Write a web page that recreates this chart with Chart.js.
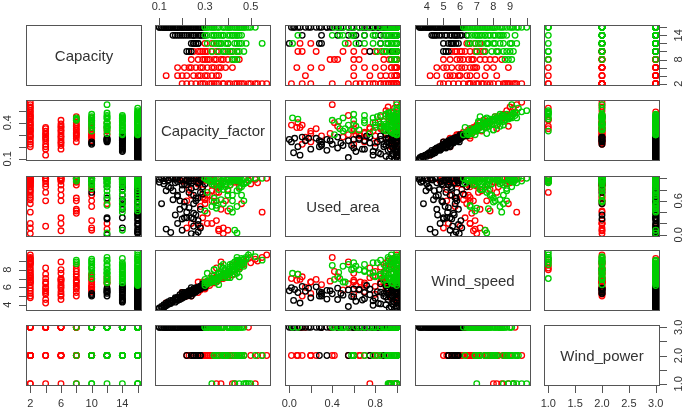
<!DOCTYPE html>
<html lang="en">
<head>
<meta charset="UTF-8">
<title>Wind farm pairs plot</title>
<script src="https://cdn.jsdelivr.net/npm/chart.js"></script>
<style>
  body { margin: 0; background: #fff; }
  #wrap { position: relative; width: 685px; height: 414px; overflow: hidden; background: #fff;
          font-family: "Liberation Sans", Arial, sans-serif; }
  #wrap canvas { position: absolute; }
  .diag { position: absolute; display: flex; align-items: center; justify-content: center;
          font-size: 15px; color: #333; }
</style>
</head>
<body>
<div id="wrap"></div>
<script>
// variable names (diagonal labels)
var varNames = ['Capacity', 'Capacity_factor', 'Used_area', 'Wind_speed', 'Wind_power'];
// cluster colours: black, red, green
var groupColors = ['#000000', '#FF0000', '#00CD00'];
// drawing order of the clusters (higher = further back): red behind black, green on top
var groupOrder = [1, 2, 0];

// each variable: [black cluster, red cluster, green cluster]
var capacity = [
  [16,16,16,16,16,16,16,16,16,16, 16,16,16,16,16,16,16,16,16,16,
   16,16,16,16,16,16,16,16,16,16, 16,16,14,14,14,14,14,14,14,14,
   14,12,12,12,12,12,10,10,10,16, 16,16,16,14,16,
   16,16,16,16,16,16,16,16,16,16, 16,16,16,16,16,16,16,16,14,14,
   14,14,14,14,12,12,16,14,16,16],
  [2,2,2,2,2,2,2,2,2,2, 2,2,2,2,2,2,2,2,2,4,
   4,4,4,4,4,4,4,6,6,6, 6,6,6,6,6,6,8,8,8,8,
   8,8,8,8,10,10,10,10,10,10, 10,10,10,12,12,12,12,2,
   2,2,2,2,2,2,4,4,4,6, 6,6,6,8,8,8,8,10,10,10, 10,2,4,6,8],
  [16,16,16,16,16,16,16,16,16,16, 16,16,16,16,16,16,16,16,14,14,
   14,14,14,14,14,14,14,14,12,12, 12,12,12,12,12,12,12,10,10,10,
   10,10,10,8,8,8,
   16,16,16,16,16,16,16,16,16,16, 16,16,16,16,14,14,14,14,14,14,
   14,14,12,12,12,12,12,10,10,10, 16,16,14,12,16]
];
var capacityFactor = [
  [.10,.11,.12,.13,.12,.14,.15,.14,.16,.17, .18,.17,.19,.20,.21,.19,.22,.23,.21,.24,
   .25,.23,.26,.27,.25,.28,.29,.27,.30,.24, .26,.28,.17,.19,.21,.22,.24,.26,.28,.29,
   .25,.24,.25,.26,.27,.25,.22,.23,.24,.13, .15,.18,.20,.16,.11,
   .12,.14,.16,.18,.20,.22,.24,.26,.28,.15, .18,.21,.23,.25,.27,.29,.20,.17,.18,.20,
   .23,.25,.27,.30,.26,.27,.22,.28,.13,.10],
  [.57,.55,.52,.50,.47,.45,.43,.40,.38,.36, .34,.32,.30,.28,.26,.24,.22,.20,.38,.13,
   .18,.22,.25,.28,.31,.33,.35,.18,.21,.24, .26,.29,.31,.34,.37,.36,.24,.27,.30,.32,
   .35,.37,.40,.42,.25,.27,.29,.31,.33,.35, .38,.40,.42,.30,.33,.36,.40,.35,
   .53,.49,.44,.41,.33,.29,.30,.27,.20,.28, .33,.23,.39,.29,.34,.38,.45,.30,.36,.44,
   .28,.46,.36,.42,.31],
  [.30,.32,.34,.36,.38,.40,.42,.44,.46,.47, .43,.39,.35,.50,.48,.33,.45,.41,.30,.33,
   .36,.38,.40,.42,.44,.45,.43,.35,.31,.34, .37,.40,.43,.46,.48,.55,.44,.36,.39,.42,
   .45,.47,.33,.42,.44,.43,
   .31,.33,.41,.40,.43,.45,.47,.31,.34,.38, .44,.36,.45,.49,.31,.34,.37,.41,.44,.34,
   .38,.42,.40,.36,.39,.37,.45,.38,.41,.44, .46,.30,.46,.35,.52]
];
var usedArea = [
  [.98,1,.95,1,.90,.85,1,.97,.78,.92, .70,1,.60,.88,.50,.97,.40,.93,.30,.82,
   .15,1,.65,.05,.95,.45,.99,.25,.90,.02, .35,.75,.98,.45,.90,.30,1,.60,.12,.85,
   .55,.30,1,0,.92,.28,.96,.75,1,.10, .04,.20,.28,.62,.55,
   1,.96,1,.94,1,.98,.91,1,.96,.83, .68,.58,.48,.38,.18,.72,.08,.35,1,.80,
   .95,.70,.92,1,.85,.65,.88,.98,.78,.93],
  [1,.40,.98,.90,1,.85,.93,.80,1,.75, .97,.70,.62,1,.95,.20,.12,.95,.02,1,
   1,.60,1,.15,1,1,.75,1,.95,.70, 1,.30,.20,1,.95,.07,1,.95,.65,1,
   .60,.45,.42,1,1,.90,.80,.70,.60,.25, .12,.08,1,.55,.20,.10,1,.85,
   .92,.97,1,.88,.78,.66,.98,.90,.95,.98, .88,.80,.60,.98,.88,1,.93,.96,.86,.98,
   .50,.55,.85,.99,.38],
  [1,.95,.88,1,.80,.97,.70,1,.92,.60, 1,.85,.99,1,.93,.50,.98,.46,1,.90,
   .80,.95,.70,.60,.50,1,.08,.47,1,.95, .85,.78,1,.70,.92,1,.03,1,.90,.97,
   .82,1,.94,1,.95,.98,
   .97,1,.93,1,.96,1,.90,.75,.65,.55, .99,.91,1,.95,.98,1,.88,.95,.78,.58,
   .92,.40,.98,.90,1,.62,.96,.98,.88,1, .85,.42,.97,.52,1]
];
var windSpeed = [
  [3.55,3.6,3.75,3.9,4.0,4.1,4.25,4.35,4.45,4.6, 4.7,4.8,4.9,5.0,5.1,5.15,5.25,5.35,5.4,5.5,
   5.55,5.6,5.7,5.75,5.85,5.9,6.0,6.05,6.15,5.95, 5.65,5.8,4.3,4.6,4.9,5.2,5.5,5.8,6.1,6.4,
   5.7,5.0,5.3,5.6,5.9,5.5,5.0,5.15,5.3,4.2, 4.5,4.8,5.0,4.4,3.8,
   3.7,4.05,4.5,4.85,5.2,5.45,5.65,5.95,6.1,4.15, 4.55,4.95,5.3,5.6,5.9,6.2,5.4,4.65,4.5,4.75,
   5.1,5.4,5.65,6.0,5.45,5.75,5.3,5.85,3.95,3.65],
  [9.7,9.4,9.2,8.8,8.6,8.3,8.0,7.8,7.4,7.1, 6.8,6.5,6.2,5.9,5.6,5.3,5.0,4.8,7.0,4.2,
   4.6,5.2,5.6,6.0,6.4,7.0,8.2,4.6,5.0,5.5, 5.9,6.3,6.6,7.0,8.9,6.8,5.0,5.4,5.8,6.2,
   6.8,7.2,7.8,8.5,5.5,5.8,6.1,6.3,6.6,6.9, 7.2,7.5,7.4,6.4,6.6,6.9,7.2,6.6,
   9.0,9.3,8.7,7.6,7.3,6.6,5.9,6.6,5.4,6.1, 6.9,5.2,7.6,6.0,6.5,7.5,8.1,6.0,7.0,8.2,
   5.7,8.9,7.5,8.0,6.7],
  [6.2,6.5,6.8,7.0,7.3,7.6,7.9,8.2,8.5,8.8, 8.0,7.5,6.9,10.0,9.2,6.6,9.0,7.7,6.5,6.9,
   7.2,7.5,7.8,8.1,8.4,8.6,7.5,7.0,6.5,6.9, 7.3,7.7,8.1,8.6,9.4,9.1,7.6,7.5,7.9,8.3,
   8.8,9.2,7.0,8.7,9.1,8.9,
   6.4,6.7,7.1,7.4,7.8,8.1,8.4,7.6,8.0,8.6, 9.4,6.3,7.2,9.7,6.7,7.3,7.7,8.3,8.8,8.0,
   7.1,8.5,7.1,7.6,8.0,8.4,9.0,8.2,8.6,9.0, 9.1,6.9,9.3,6.6,9.5]
];
var windPower = [
  [3,3,3,3,3,3,3,3,3,3, 3,3,3,3,3,3,3,3,3,3,
   3,3,3,3,3,3,3,3,3,3, 2,2,3,3,3,3,3,3,3,3,
   2,3,3,3,2,2,3,3,2,3, 3,3,3,3,3,
   3,3,3,3,3,3,3,3,3,3, 3,3,3,3,3,3,3,3,3,3,
   3,3,3,3,3,3,2,2,3,3],
  [2,2,1,2,2,2,1,2,3,2, 3,2,3,2,3,2,2,3,2,3,
   3,3,2,3,2,3,1,3,3,3, 2,3,2,3,1,2,3,3,2,3,
   2,3,2,1,2,3,2,3,2,2, 3,2,3,3,2,3,2,3,
   2,3,2,2,3,2,3,2,3,2, 3,2,2,3,2,3,2,3,2,2, 3,2,3,2,3],
  [3,3,3,3,3,3,3,3,3,2, 2,2,2,1,1,3,3,3,3,3,
   3,2,3,2,3,1,3,3,3,2, 3,2,3,2,1,2,3,3,2,3,
   2,1,1,3,2,1,
   3,3,3,3,3,3,3,3,3,3, 2,2,2,1,3,3,3,3,3,2, 2,3,3,3,2,3,2,2,3,3, 3,3,2,3,2]
];

// axis ticks and the labels R kept
var capacityTicks = [2, 4, 6, 8, 10, 12, 14, 16];
var capacityBottomLabels = [2, 6, 10, 14];
var capacityRightLabels = [2, 8, 14];
var factorTicks = [0.1, 0.2, 0.3, 0.4, 0.5];
var factorTopLabels = [0.1, 0.3, 0.5];
var factorLeftLabels = [0.1, 0.4];
var areaTicks = [0, 0.2, 0.4, 0.6, 0.8, 1.0];
var areaBottomLabels = [0, 0.4, 0.8];
var areaRightLabels = [0, 0.6];
var speedTopTicks = [4, 5, 6, 7, 8, 9, 10];
var speedLeftTicks = [4, 5, 6, 7, 8, 9];
var speedTopLabels = [4, 5, 6, 7, 8, 9];
var speedLeftLabels = [4, 6, 8];
var powerTicks = [1, 1.5, 2, 2.5, 3];
var powerBottomLabels = [1, 1.5, 2, 2.5, 3];
var powerRightLabels = [1, 2, 3];
var labelDigits = [0, 1, 1, 0, 1];

var variables = [capacity, capacityFactor, usedArea, windSpeed, windPower];

// panel geometry
var W = 116, H = 61, M = 30;
var boxLeft = [26, 155, 285, 415, 544];
var boxTop = [25, 100, 176, 250, 325];

function limits(v) {
  var all = [].concat.apply([], variables[v]);
  var lo = Math.min.apply(null, all), hi = Math.max.apply(null, all);
  var pad = (hi - lo) * 0.04;
  return { min: lo - pad, max: hi + pad };
}

function axisFor(side, v) {
  if (v === 0) return { ticks: capacityTicks, labels: side === 'bottom' ? capacityBottomLabels : capacityRightLabels };
  if (v === 1) return { ticks: factorTicks, labels: side === 'top' ? factorTopLabels : factorLeftLabels };
  if (v === 2) return { ticks: areaTicks, labels: side === 'bottom' ? areaBottomLabels : areaRightLabels };
  if (v === 3) return side === 'top' ? { ticks: speedTopTicks, labels: speedTopLabels }
                                     : { ticks: speedLeftTicks, labels: speedLeftLabels };
  return { ticks: powerTicks, labels: side === 'bottom' ? powerBottomLabels : powerRightLabels };
}

function drawAxis(chart, side, v) {
  var ctx = chart.ctx, a = chart.chartArea;
  var horiz = side === 'top' || side === 'bottom';
  var scale = horiz ? chart.scales.x : chart.scales.y;
  var spec = axisFor(side, v);
  ctx.strokeStyle = '#555';
  ctx.lineWidth = 1;
  ctx.beginPath();
  spec.ticks.forEach(function(t) {
    var p = Math.round(scale.getPixelForValue(t)) + 0.5;
    if (side === 'top') { ctx.moveTo(p, a.top); ctx.lineTo(p, a.top - 7); }
    if (side === 'bottom') { ctx.moveTo(p, a.bottom); ctx.lineTo(p, a.bottom + 7); }
    if (side === 'left') { ctx.moveTo(a.left, p); ctx.lineTo(a.left - 7, p); }
    if (side === 'right') { ctx.moveTo(a.right, p); ctx.lineTo(a.right + 7, p); }
  });
  ctx.stroke();
  ctx.fillStyle = '#333';
  ctx.font = "11px 'Liberation Sans', Arial, sans-serif";
  ctx.textAlign = 'center';
  ctx.textBaseline = 'alphabetic';
  spec.labels.forEach(function(t) {
    var p = scale.getPixelForValue(t);
    var txt = t.toFixed(labelDigits[v]);
    if (side === 'top') ctx.fillText(txt, p, a.top - 15);
    else if (side === 'bottom') ctx.fillText(txt, p, a.bottom + 21);
    else {
      ctx.save();
      ctx.translate(side === 'left' ? a.left - 15 : a.right + 22, p);
      ctx.rotate(-Math.PI / 2);
      ctx.fillText(txt, 0, 0);
      ctx.restore();
    }
  });
}

function framePlugin(axes) {
  return {
    id: 'pairFrame',
    afterDatasetsDraw: function(chart) {
      var ctx = chart.ctx, a = chart.chartArea;
      ctx.save();
      ctx.strokeStyle = '#555';
      ctx.lineWidth = 1;
      ctx.strokeRect(a.left + 0.5, a.top + 0.5, a.right - a.left - 1, a.bottom - a.top - 1);
      axes.forEach(function(ax) { drawAxis(chart, ax.side, ax.v); });
      ctx.restore();
    }
  };
}

var wrap = document.getElementById('wrap');

for (var i = 0; i < 5; i++) {
  for (var j = 0; j < 5; j++) {
    var axes = [];
    if (i === 0 && j % 2 === 1) axes.push({ side: 'top', v: j });
    if (i === 4 && j % 2 === 0) axes.push({ side: 'bottom', v: j });
    if (j === 0 && i % 2 === 1) axes.push({ side: 'left', v: i });
    if (j === 4 && i % 2 === 0) axes.push({ side: 'right', v: i });

    var canvas = document.createElement('canvas');
    canvas.width = W + 2 * M;
    canvas.height = H + 2 * M;
    canvas.style.left = (boxLeft[j] - M) + 'px';
    canvas.style.top = (boxTop[i] - M) + 'px';
    wrap.appendChild(canvas);

    var datasets = [];
    if (i !== j) {
      datasets = groupColors.map(function(col, g) {
        var xs = variables[j][g], ys = variables[i][g];
        return {
          data: xs.map(function(xv, k) { return { x: xv, y: ys[k] }; }),
          borderColor: col,
          backgroundColor: 'rgba(0,0,0,0)',
          pointRadius: 2.8,
          pointBorderWidth: 1.3,
          pointHoverRadius: 2.8,
          showLine: false,
          clip: 0,
          order: groupOrder[g]
        };
      });
    }
    var xl = limits(j), yl = limits(i);

    new Chart(canvas.getContext('2d'), {
      type: 'scatter',
      data: { datasets: datasets },
      options: {
        responsive: false,
        animation: false,
        events: [],
        layout: { padding: M },
        plugins: { legend: { display: false }, tooltip: { enabled: false } },
        scales: {
          x: { type: 'linear', display: false, min: xl.min, max: xl.max },
          y: { type: 'linear', display: false, min: yl.min, max: yl.max }
        }
      },
      plugins: [framePlugin(axes)]
    });

    if (i === j) {
      var lab = document.createElement('div');
      lab.className = 'diag';
      lab.style.left = boxLeft[j] + 'px';
      lab.style.top = boxTop[i] + 'px';
      lab.style.width = W + 'px';
      lab.style.height = H + 'px';
      lab.textContent = varNames[i];
      wrap.appendChild(lab);
    }
  }
}
</script>
</body>
</html>
